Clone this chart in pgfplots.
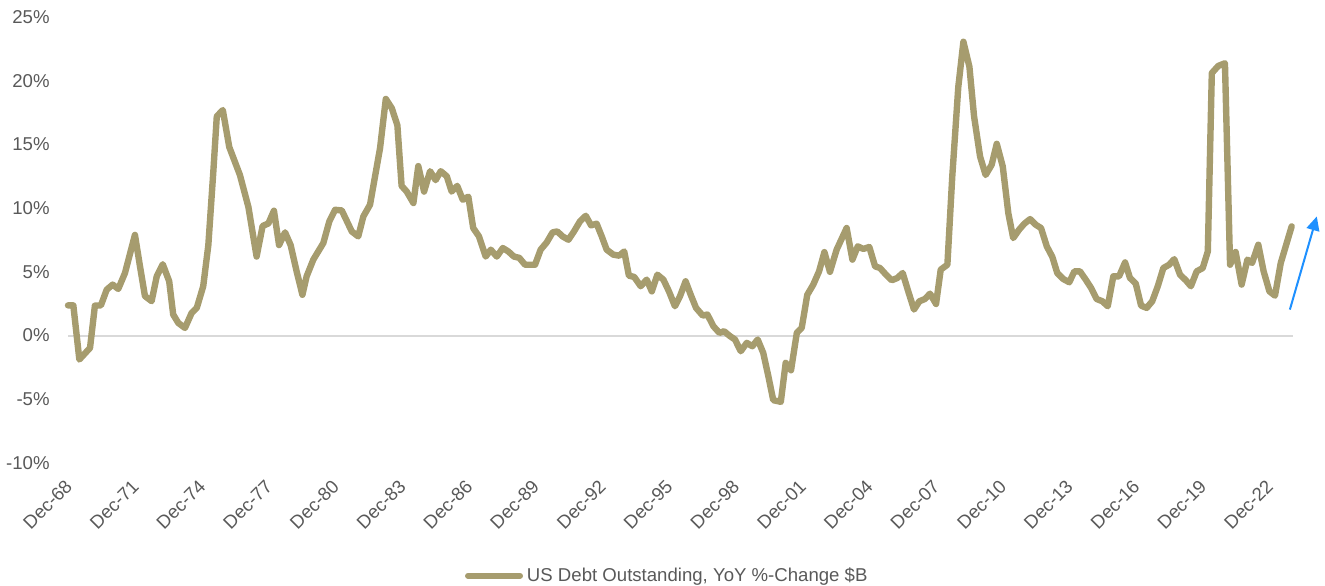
\documentclass[border=0pt]{standalone}
\usepackage{pgfplots}
\pgfplotsset{compat=1.18}
\usepackage{fontspec}
\setmainfont{Liberation Sans}
\usetikzlibrary{arrows.meta,calc}
\definecolor{debt}{RGB}{166,156,110}
\definecolor{txt}{RGB}{89,89,89}
\definecolor{zeroline}{RGB}{217,217,217}
\definecolor{arr}{RGB}{30,144,255}
\pgfplotstableread{
t v
0.00 2.37
0.24 2.37
0.51 -1.88
0.99 -0.97
1.21 2.35
1.48 2.37
1.74 3.6
2.01 4.0
2.26 3.66
2.56 4.9
3.01 7.9
3.24 5.4
3.46 3.1
3.76 2.7
3.99 4.65
4.26 5.6
4.55 4.26
4.73 1.65
4.96 0.99
5.26 0.6
5.56 1.78
5.79 2.17
6.08 3.87
6.31 7.1
6.53 12.75
6.69 17.2
6.96 17.7
7.25 14.8
7.73 12.6
8.11 10.1
8.48 6.2
8.75 8.6
9.01 8.8
9.26 9.8
9.49 7.1
9.76 8.1
10.01 7.1
10.28 5.04
10.54 3.2
10.73 4.65
11.03 5.96
11.48 7.26
11.75 8.96
12.01 9.87
12.31 9.82
12.76 8.17
13.05 7.78
13.28 9.35
13.58 10.27
14.03 14.7
14.29 18.57
14.56 17.84
14.81 16.5
15.00 11.75
15.23 11.3
15.53 10.4
15.75 13.3
16.01 11.3
16.28 12.9
16.53 12.2
16.76 12.9
17.03 12.5
17.25 11.3
17.50 11.75
17.75 10.66
18.00 10.9
18.22 8.44
18.48 7.78
18.78 6.2
19.01 6.74
19.28 6.2
19.55 6.87
19.80 6.6
20.05 6.2
20.29 6.1
20.55 5.56
21.00 5.56
21.25 6.74
21.52 7.3
21.79 8.1
22.00 8.17
22.24 7.78
22.50 7.52
22.75 8.17
23.02 8.96
23.28 9.4
23.52 8.65
23.77 8.78
24.00 7.78
24.22 6.74
24.52 6.35
24.78 6.27
25.01 6.6
25.22 4.7
25.46 4.6
25.75 3.87
26.02 4.39
26.25 3.47
26.50 4.78
26.77 4.39
27.02 3.47
27.29 2.3
27.52 3.1
27.77 4.26
28.00 3.2
28.24 2.17
28.54 1.57
28.75 1.65
29.02 0.73
29.29 0.21
29.50 0.34
29.77 -0.05
29.99 -0.31
30.25 -1.23
30.52 -0.57
30.77 -0.84
31.01 -0.31
31.26 -1.36
31.49 -3.19
31.71 -5.07
32.05 -5.2
32.27 -2.14
32.51 -2.72
32.77 0.21
32.99 0.6
33.24 3.2
33.51 4.0
33.77 5.04
34.01 6.55
34.26 5.0
34.56 6.74
35.01 8.44
35.27 5.96
35.51 7.0
35.76 6.8
36.03 6.95
36.29 5.43
36.51 5.3
36.78 4.78
37.04 4.34
37.29 4.52
37.53 4.91
37.78 3.47
38.04 2.04
38.28 2.69
38.53 2.87
38.76 3.29
39.03 2.48
39.24 5.17
39.54 5.56
39.76 12.5
40.03 19.5
40.26 23.06
40.53 21.1
40.74 17.2
41.01 14.05
41.26 12.6
41.53 13.4
41.76 15.05
42.03 13.27
42.28 9.6
42.50 7.65
42.76 8.3
43.00 8.78
43.26 9.14
43.51 8.7
43.75 8.44
44.01 7.0
44.26 6.17
44.48 4.91
44.75 4.44
45.02 4.18
45.25 5.04
45.50 5.04
45.76 4.39
46.00 3.74
46.25 2.87
46.51 2.69
46.75 2.3
47.00 4.65
47.26 4.65
47.53 5.74
47.75 4.52
48.01 4.08
48.25 2.35
48.50 2.17
48.75 2.69
49.00 3.87
49.25 5.3
49.51 5.56
49.74 6.0
50.00 4.78
50.26 4.34
50.49 3.87
50.75 5.04
51.02 5.3
51.25 6.6
51.43 20.6
51.72 21.16
52.02 21.37
52.25 5.56
52.50 6.56
52.77 4.0
53.03 5.96
53.24 5.7
53.52 7.13
53.76 5.04
54.02 3.47
54.27 3.13
54.53 5.7
55.02 8.57
}\debttable
\begin{document}
\fontsize{9.3bp}{11bp}\selectfont
\begin{tikzpicture}
\begin{axis}[
  scale only axis, width=612.5bp, height=223bp,
  xmin=0, xmax=55.08, ymin=-10, ymax=25,
  axis line style={draw=none},
  tick style={draw=none},
  major tick length=0pt,
  xtick={0,3,...,54},
  xticklabels={Dec-68,Dec-71,Dec-74,Dec-77,Dec-80,Dec-83,Dec-86,Dec-89,Dec-92,Dec-95,Dec-98,Dec-01,Dec-04,Dec-07,Dec-10,Dec-13,Dec-16,Dec-19,Dec-22},
  ytick={-10,-5,0,5,10,15,20,25},
  yticklabels={-10\%,-5\%,0\%,5\%,10\%,15\%,20\%,25\%},
  extra y ticks={0},
  extra y tick labels={},
  extra y tick style={grid=major, major grid style={draw=zeroline, line width=1bp}},
  tick label style={font=\fontsize{9.3bp}{11bp}\selectfont, text=txt},
  xticklabel style={yshift=-10bp, xshift=0.5bp, rotate=45, anchor=east, inner sep=0pt},
  yticklabel style={anchor=east, inner sep=0pt, xshift=-9bp},
  clip=false,
  legend style={at={(0.49,-0.253)}, anchor=center, draw=none, fill=none,
    font=\fontsize{9.3bp}{11bp}\selectfont, text=txt, inner sep=0pt},
  legend image code/.code={\draw[#1, line width=3bp] (0bp,0bp) -- (26bp,0bp);},
]
\addplot[debt, line width=3.2bp, line join=round, line cap=round] table[x=t, y=v] {\debttable};
\addlegendentry{US Debt Outstanding, YoY \%-Change \$B}
\draw[arr, line width=1bp, -{Triangle[length=7bp,width=6.5bp]}] (axis cs:54.94,2.04) -- (axis cs:56.15,9.35);
\end{axis}
\pgfresetboundingbox
\path[use as bounding box] ($(current axis.south west)+(-34bp,-61.5bp)$) rectangle ($(current axis.north east)+(16bp,8.5bp)$);
\end{tikzpicture}
\end{document}
